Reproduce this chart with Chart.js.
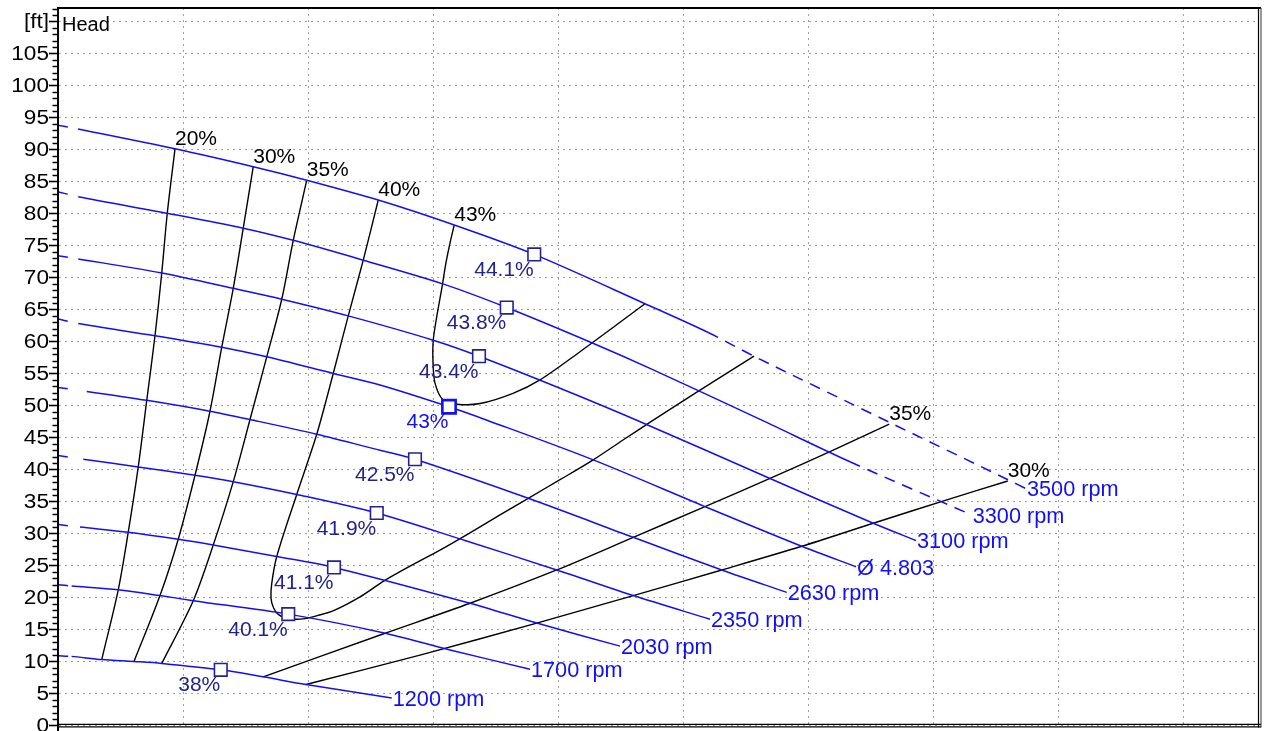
<!DOCTYPE html>
<html>
<head>
<meta charset="utf-8">
<script src="https://cdn.jsdelivr.net/npm/chart.js@4.4.1/dist/chart.umd.min.js"></script>
<style>
  html, body { margin:0; padding:0; background:#fff; }
  #wrap { width:1270px; height:731px; }
</style>
</head>
<body>
<div id="wrap"><canvas id="pump" width="1270" height="731"></canvas></div>
<script>
// x = flow (one grid division = 10 units, no labels shown), y = head [ft]
const xTicks = [10, 20, 30, 40, 50, 60, 70, 80, 90];
const yTicks = [0,5,10,15,20,25,30,35,40,45,50,55,60,65,70,75,80,85,90,95,100,105,110];
const yTickLabels = ["0","5","10","15","20","25","30","35","40","45","50","55","60","65","70","75","80","85","90","95","100","105","[ft]"];

// speed curves [Q, H]
const n3500 = [[0,93.8],[1.6,93.2],[9.36,90.1],[15.62,87.3],[19.9,85.2],[25.62,82.1],[31.7,78.2],[38.1,73.6],[46.96,65.9],[52.02,61.4],[55.68,57.7],[66.48,47.4],[76.0,38.4],[77.44,37.0]];
const n3300 = [[0,83.4],[1.62,82.6],[8.82,80.0],[14.82,77.7],[18.82,75.8],[24.42,72.7],[30.78,69.0],[35.9,65.3],[42.7,59.8],[47.36,55.8],[56.3,47.7],[63.36,41.2],[73.1,32.9]];
const n3100 = [[0,73.4],[1.62,72.9],[8.3,70.7],[14.02,68.3],[17.9,66.6],[23.22,64.0],[30.02,60.2],[33.68,57.7],[40.16,52.7],[46.3,47.7],[56.96,38.6],[65.22,31.6],[68.64,28.9]];
const nD4803 = [[0,63.5],[1.62,62.8],[7.76,60.9],[13.1,59.1],[16.7,57.6],[22.02,55.0],[25.76,53.2],[31.28,49.8],[34.32,47.7],[42.82,41.5],[51.76,34.2],[59.5,28.0],[63.84,24.8]];
const n2630 = [[0,52.8],[2.3,52.2],[7.1,50.8],[12.16,49.1],[15.36,47.8],[20.7,45.5],[25.76,43.0],[28.56,41.6],[37.62,35.5],[46.02,29.4],[53.1,24.3],[58.3,20.8]];
const n2350 = [[0,42.2],[2.02,41.6],[6.42,40.4],[10.96,39.1],[14.02,38.1],[19.1,36.1],[25.5,33.2],[32.56,28.9],[39.9,24.3],[46.02,20.3],[52.16,16.6]];
const n2030 = [[0,31.4],[1.76,31.0],[5.62,30.2],[9.62,29.1],[12.42,28.2],[17.5,26.4],[22.08,24.7],[32.96,19.1],[38.3,16.0],[44.96,12.4]];
const n1700 = [[0,22.0],[1.09,21.8],[4.82,21.2],[8.16,20.3],[10.82,19.5],[18.42,17.4],[26.0,14.5],[31.36,11.8],[37.76,8.8]];
const n1200 = [[0,10.9],[1.09,10.8],[3.5,10.3],[6.08,10.0],[8.3,9.7],[13.02,8.7],[16.42,7.6],[19.84,6.4],[26.7,4.3]];
const speedNames = ["3500 rpm","3300 rpm","3100 rpm","Ø 4.803","2630 rpm","2350 rpm","2030 rpm","1700 rpm","1200 rpm"];
const speedDashFrom = [9, 11, null, null, null, null, null, null, null];

// iso-efficiency lines [Q, H]
const eff20 = [[9.36,90.1],[8.74,80.0],[8.3,70.7],[7.76,60.9],[7.1,50.8],[6.42,40.4],[5.62,30.2],[4.82,21.2],[3.5,10.3]];
const eff30 = [[15.62,87.3],[14.82,77.7],[14.02,68.3],[13.1,59.1],[12.16,49.1],[10.96,39.1],[9.62,29.1],[8.16,20.3],[6.08,10.0]];
const eff35a = [[19.9,85.2],[18.82,75.8],[17.9,66.6],[16.7,57.6],[15.36,47.8],[14.02,38.1],[12.42,28.2],[10.82,19.5],[8.3,9.7]];
const eff40 = [[25.62,82.1],[24.42,72.7],[23.22,64.0],[22.02,55.0],[20.7,45.5],[19.1,36.1],[17.5,26.4],[17.1,22.2],[17.04,19.9],[17.24,18.4],[17.6,17.4],[18.16,16.8],[18.88,16.6],[19.76,16.7],[20.8,17.2],[22.0,17.9],[24.16,20.1],[26.08,22.6],[28.16,24.9],[30.56,27.4],[32.96,30.1],[35.36,32.9],[37.62,35.5],[40.16,38.4],[42.82,41.5],[45.2,44.6],[47.62,47.7],[51.36,52.4],[55.68,57.7]];
const eff43 = [[31.7,78.2],[31.42,75.9],[31.04,72.3],[30.72,68.5],[30.32,64.1],[30.02,60.2],[30.0,56.8],[30.16,53.5],[30.8,50.9],[31.92,50.2],[33.76,50.3],[36.4,51.9],[38.56,54.0],[41.76,58.4],[44.96,63.0],[46.96,65.9]];
const eff35b = [[16.42,7.6],[26.0,14.3],[32.96,19.1],[39.9,24.3],[46.02,29.4],[51.76,34.2],[56.96,38.6],[61.76,42.8],[66.5,47.1]];
const eff30b = [[19.84,6.4],[28.96,11.0],[38.3,16.0],[46.02,20.3],[53.1,24.3],[59.5,28.0],[65.22,31.6],[71.36,35.4],[75.98,38.2]];
const effNames = ["20%","30%","35%","40%","43%","35%","30%"];
const effLabelAt = ["first","first","first","first","first","last","last"];

// best efficiency points
const bepQ = [38.1, 35.9, 33.68, 31.28, 28.56, 25.5, 22.08, 18.42, 13.02];
const bepH = [73.6, 65.3, 57.7, 49.8, 41.6, 33.2, 24.7, 17.4, 8.7];
const bepText = ["44.1%","43.8%","43.4%","43%","42.5%","41.9%","41.1%","40.1%","38%"];
const bepMain = 3;

const BLUE = "#1010f8";
const NAVY = "#23238c";
const FONT = '"Liberation Sans", Arial, sans-serif';

const speedSets = [n3500, n3300, n3100, nD4803, n2630, n2350, n2030, n1700, n1200];
const effSets = [eff20, eff30, eff35a, eff40, eff43, eff35b, eff30b];

function pts(arr){ return arr.map(p => ({x: p[0], y: p[1]})); }

const datasets = [];
datasets.push({
  label: "BEP",
  data: bepQ.map((q, i) => ({x: q, y: bepH[i]})),
  showLine: false,
  pointStyle: "rect",
  pointRadius: bepQ.map((_, i) => i === bepMain ? 9.4 : 8.9),
  pointBackgroundColor: "#fff",
  pointBorderColor: bepQ.map((_, i) => i === bepMain ? BLUE : NAVY),
  pointBorderWidth: bepQ.map((_, i) => i === bepMain ? 2.6 : 1.6),
  order: 0
});
const speedStart = datasets.length;
speedSets.forEach((arr, i) => {
  const dashFrom = speedDashFrom[i];
  datasets.push({
    label: speedNames[i],
    data: pts(arr),
    showLine: true,
    borderColor: BLUE,
    borderWidth: 1.5,
    pointRadius: 0,
    tension: 0.3,
    order: 1,
    segment: {
      borderDash: ctx => {
        if (ctx.p0DataIndex === 0) return [10, 80];
        if (dashFrom !== null && ctx.p0DataIndex >= dashFrom) return [11, 8];
        return [];
      }
    }
  });
});
const effStart = datasets.length;
effSets.forEach((arr, i) => {
  datasets.push({
    label: effNames[i],
    data: pts(arr),
    showLine: true,
    borderColor: "#000",
    borderWidth: 1.4,
    pointRadius: 0,
    tension: 0.3,
    order: 2
  });
});

function txt(ctx, s, x, y, o){
  ctx.save();
  ctx.font = o.size + "px " + FONT;
  ctx.fillStyle = o.color;
  ctx.textAlign = o.align;
  ctx.textBaseline = o.baseline || "alphabetic";
  ctx.translate(x, y);
  ctx.scale(o.stretch || 1, 1);
  ctx.fillText(s, 0, 0);
  ctx.restore();
}

const decor = {
  id: "decor",
  afterDatasetsDraw(chart){
    const ctx = chart.ctx;
    effSets.forEach((arr, i) => {
      const els = chart.getDatasetMeta(effStart + i).data;
      const el = effLabelAt[i] === "first" ? els[0] : els[els.length - 1];
      txt(ctx, effNames[i], el.x, el.y - 4, {size: 21, color: "#000", align: "left"});
    });
    speedSets.forEach((arr, i) => {
      const els = chart.getDatasetMeta(speedStart + i).data;
      const el = els[els.length - 1];
      txt(ctx, speedNames[i], el.x + 1, el.y + 7.8, {size: 21.7, color: BLUE, align: "left"});
    });
    const bep = chart.getDatasetMeta(0).data;
    bep.forEach((el, i) => {
      txt(ctx, bepText[i], el.x - 0.5, el.y + 21.5, {size: 21, color: i === bepMain ? BLUE : NAVY, align: "right"});
    });
  },
  afterDraw(chart){
    const ctx = chart.ctx;
    const a = chart.chartArea;
    const ys = chart.scales.y;
    // tick labels
    yTicks.forEach((v, i) => {
      txt(ctx, yTickLabels[i], 49, ys.getPixelForValue(v) + 1, {size: 20, color: "#000", align: "right", baseline: "middle", stretch: 1.13});
    });
    txt(ctx, "Head", 62, 25, {size: 20, color: "#000", align: "left", baseline: "middle"});
    // minor ticks
    ctx.save();
    ctx.strokeStyle = "#000";
    ctx.lineWidth = 1.5;
    for (let v = 0; v <= ys.max; v++) {
      if (v % 5 === 0) continue;
      const y = Math.round(ys.getPixelForValue(v)) + 0.5;
      ctx.beginPath(); ctx.moveTo(52.5, y); ctx.lineTo(a.left, y); ctx.stroke();
    }
    // frame
    ctx.lineWidth = 2;
    ctx.beginPath(); ctx.moveTo(a.left - 1, a.top); ctx.lineTo(a.right + 2, a.top); ctx.stroke();
    ctx.beginPath(); ctx.moveTo(a.left, a.top); ctx.lineTo(a.left, 731); ctx.stroke();
    ctx.lineWidth = 1.2;
    ctx.beginPath(); ctx.moveTo(a.right - 0.5, a.top); ctx.lineTo(a.right - 0.5, a.bottom + 2); ctx.stroke();
    ctx.strokeStyle = "#555";
    ctx.beginPath(); ctx.moveTo(a.right + 2, a.top); ctx.lineTo(a.right + 2, a.bottom + 2); ctx.stroke();
    ctx.strokeStyle = "#000";
    ctx.beginPath(); ctx.moveTo(a.left, a.bottom - 1.2); ctx.lineTo(a.right + 2, a.bottom - 1.2); ctx.stroke();
    ctx.beginPath(); ctx.moveTo(a.left, a.bottom + 1.3); ctx.lineTo(a.right + 2, a.bottom + 1.3); ctx.stroke();
    ctx.restore();
  }
};

new Chart(document.getElementById("pump"), {
  type: "scatter",
  data: { datasets: datasets },
  options: {
    responsive: false,
    devicePixelRatio: 1,
    animation: false,
    events: [],
    layout: { autoPadding: false, padding: { top: 8, right: 11, bottom: 5.5, left: 0 } },
    plugins: { legend: { display: false }, tooltip: { enabled: false } },
    scales: {
      x: {
        type: "linear", min: 0, max: 96.08,
        afterBuildTicks: s => { s.ticks = xTicks.map(v => ({value: v})); },
        afterFit: s => { s.height = 0; },
        ticks: { display: false },
        grid: { color: "#a0a0a0", lineWidth: 1, drawTicks: false },
        border: { display: false, dash: [2, 4] }
      },
      y: {
        type: "linear", min: 0, max: 112.1,
        afterBuildTicks: s => { s.ticks = yTicks.map(v => ({value: v})); },
        afterFit: s => { s.width = 58; },
        ticks: { display: false },
        grid: { color: "#a0a0a0", lineWidth: 1, tickLength: 9, tickColor: "#000", tickWidth: 1.6, tickBorderDash: [] },
        border: { color: "#000", width: 2, dash: [2, 4] }
      }
    }
  },
  plugins: [decor]
});
</script>
</body>
</html>
